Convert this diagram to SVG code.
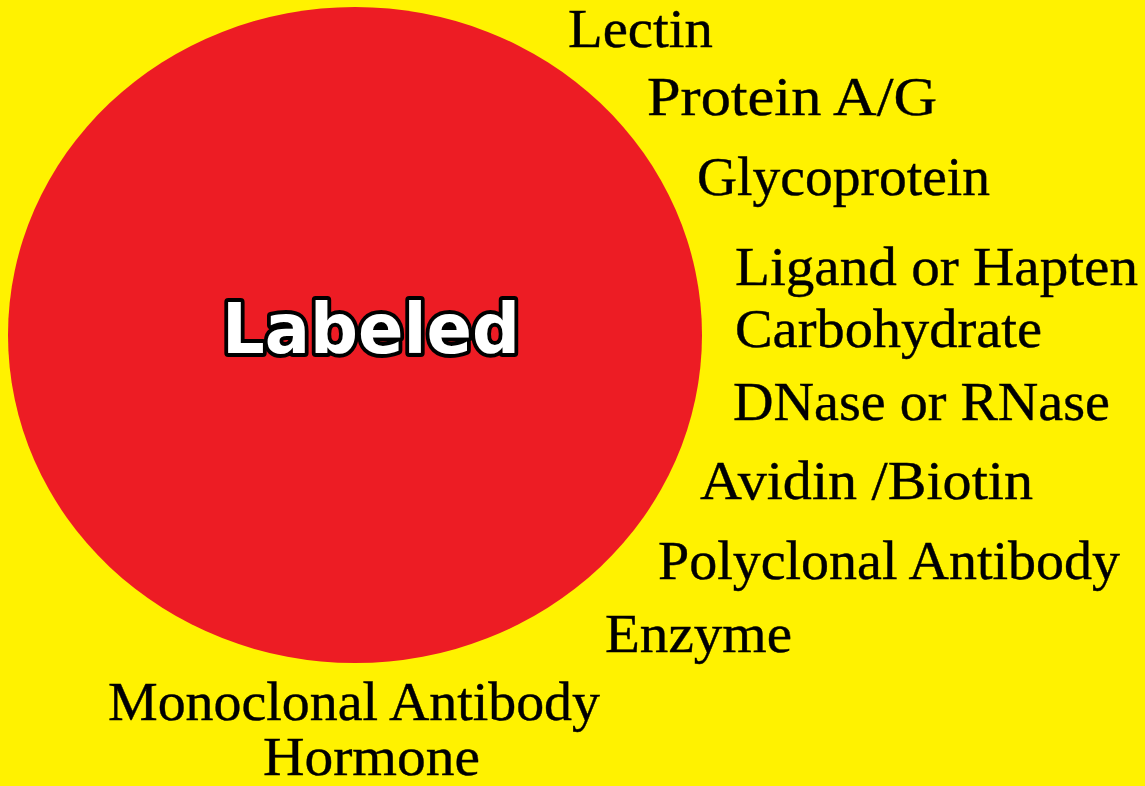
<svg xmlns="http://www.w3.org/2000/svg" width="1145" height="786" viewBox="0 0 1145 786">
<style>
.t{font-family:"Liberation Serif","Times New Roman",serif;font-size:54px;fill:#000;stroke:#000;stroke-width:0.4}
.c{font-family:"DejaVu Sans",sans-serif;font-weight:bold;font-size:70px;fill:#fff;stroke:#000;stroke-width:8;stroke-linejoin:round;paint-order:stroke}
</style>
<rect width="1145" height="786" fill="#FFF200"/>
<g id="circle">
<ellipse cx="355" cy="335" rx="347" ry="328" fill="#ED1C24"/>
<text class="c" x="222" y="353" textLength="298" lengthAdjust="spacingAndGlyphs">Labeled</text>
</g>
<g id="labels">
<text class="t" x="568" y="47" font-size="50" textLength="145" lengthAdjust="spacingAndGlyphs">Lectin</text>
<text class="t" x="647" y="115" textLength="290" lengthAdjust="spacingAndGlyphs">Protein A/G</text>
<text class="t" x="697" y="195" textLength="293" lengthAdjust="spacingAndGlyphs">Glycoprotein</text>
<text class="t" x="735" y="285" textLength="403" lengthAdjust="spacingAndGlyphs">Ligand or Hapten</text>
<text class="t" x="735" y="347" textLength="307" lengthAdjust="spacingAndGlyphs">Carbohydrate</text>
<text class="t" x="733" y="420" textLength="377" lengthAdjust="spacingAndGlyphs">DNase or RNase</text>
<text class="t" x="700" y="499" textLength="333" lengthAdjust="spacingAndGlyphs">Avidin /Biotin</text>
<text class="t" x="658" y="579" textLength="462" lengthAdjust="spacingAndGlyphs">Polyclonal Antibody</text>
<text class="t" x="605" y="652" textLength="187" lengthAdjust="spacingAndGlyphs">Enzyme</text>
<text class="t" x="108" y="720" textLength="492" lengthAdjust="spacingAndGlyphs">Monoclonal Antibody</text>
<text class="t" x="263" y="775" font-size="50" textLength="217" lengthAdjust="spacingAndGlyphs">Hormone</text>
</g>
</svg>
